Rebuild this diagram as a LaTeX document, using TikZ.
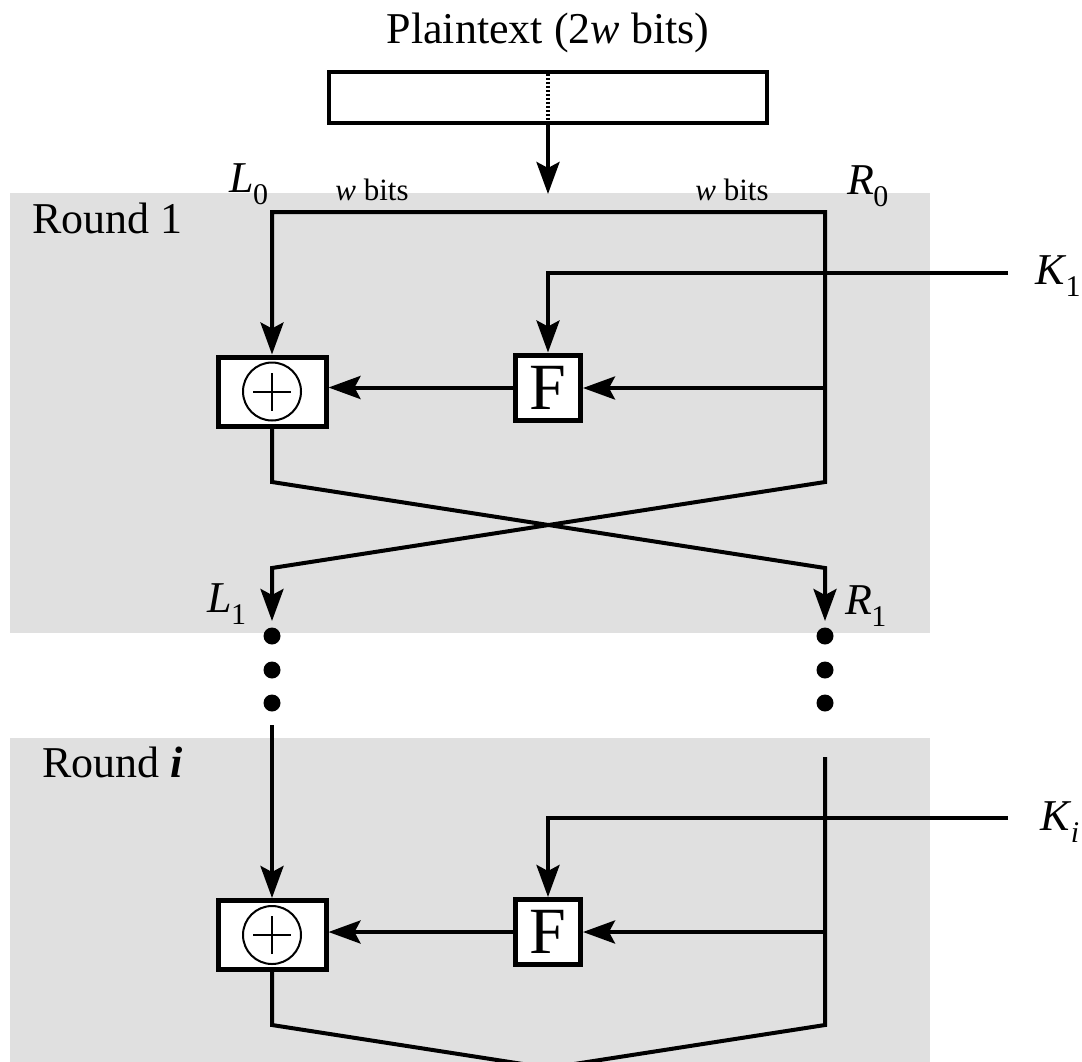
\documentclass[tikz,border=0pt]{standalone}
\usepackage{fontspec}
\setmainfont{Liberation Serif}
\newfontfamily\labelfont{Liberation Serif}
\usetikzlibrary{arrows.meta}
% italic symbol with an upright subscript
\newcommand{\varsub}[2]{\textit{#1}\kern-1pt\raisebox{-0.28em}{\fontsize{30}{30}\selectfont #2}}
\begin{document}
\begin{tikzpicture}[x=1pt,y=-1pt,
  font=\labelfont,
  wire/.style={line width=4pt,line join=miter},
  tip/.style={-{Stealth[length=32pt,width=23pt,inset=6pt]}},
  arr/.style={wire,tip},
  arrboth/.style={wire,{Stealth[length=32pt,width=23pt,inset=6pt]}-{Stealth[length=32pt,width=23pt,inset=6pt]}},
  boxstyle/.style={draw,fill=white,line width=5pt,inner sep=0pt},
  xorbox/.style={boxstyle,minimum width=108pt,minimum height=69pt},
  funcbox/.style={boxstyle,minimum width=65pt,minimum height=65pt,font=\labelfont\fontsize{66}{66}\selectfont},
  band/.style={fill=black!12,draw=none},
  lbl/.style={font=\labelfont\fontsize{44}{48}\selectfont,inner sep=0pt},
  small/.style={font=\labelfont\fontsize{31}{34}\selectfont,inner sep=0pt},
  dot/.style={circle,fill=black,inner sep=0pt,minimum size=17pt},
]
\useasboundingbox (0,0) rectangle (1082,1061);
\clip (0,0) rectangle (1082,1061);

% shaded round areas
\fill[band] (10,193) rectangle (930,633);
\fill[band] (10,738) rectangle (930,1080);

% plaintext block
\node[lbl] (title) at (548,33) {Plaintext (2\textit{w} bits)};
\node[draw,line width=4.5pt,minimum width=438pt,minimum height=51pt,inner sep=0pt] (pt) at (548,97.5) {};
\draw[line width=3.5pt,dash pattern=on 2.5pt off 1.5pt] (pt.north) ++(0,4) -- ([yshift=3pt]pt.south);
\coordinate (split) at (548,194);
\draw[arr] (pt.south) -- (split);

% ---------------- Round 1 ----------------
\node[lbl,anchor=base west] (r1name) at (32,233) {Round 1};
\coordinate (l0) at (272,212);
\coordinate (r0) at (825,212);
\node[xorbox] (x1) at (272,391.5) {};
\draw[line width=2pt] (x1.center) circle (29pt);
\draw[line width=2pt] ([xshift=-19pt]x1.center) -- ([xshift=19pt]x1.center)
                      ([yshift=-19pt]x1.center) -- ([yshift=19pt]x1.center);
\node[funcbox] (f1) at (548,387.5) {F};

\node[lbl] (L0) at (249,184) {\varsub{L}{0}};
\node[lbl] (R0) at (868,186) {\varsub{R}{0}};
\node[small] (wl) at (372,190) {\textit{w} bits};
\node[small] (wr) at (732,190) {\textit{w} bits};

\coordinate (r1a) at (825,482);
\coordinate (l1a) at (272,482);
\coordinate (l1b) at (272,568);
\coordinate (r1b) at (825,568);
\coordinate (l1end) at (272,621);
\coordinate (r1end) at (825,621);
\draw[arrboth] (x1.north) -- (l0) -- (r0) -- (r1a) -- (l1b) -- (l1end);
\draw[arr] (x1.south) -- (l1a) -- (r1b) -- (r1end);

\node[lbl] (K1) at (1058,276) {\varsub{K}{1}};
\coordinate (k1in) at (1008,273);
\draw[arr] (k1in) -| (f1.north);
\coordinate (r1tap) at (825,388);
\draw[arr] (r1tap) -- (f1.east |- r1tap);
\draw[arr] (f1.west) -- (x1.east |- f1.west);

\node[lbl] (L1) at (227,604) {\varsub{L}{1}};
\node[lbl] (R1) at (866,606) {\varsub{R}{1}};

% continuation dots
\foreach \y [count=\k] in {636,670,703} {
  \node[dot] (dl\k) at (272,\y) {};
  \node[dot] (dr\k) at (825,\y) {};
}

% ---------------- Round i ----------------
\node[lbl,anchor=base west] (riname) at (42,777) {Round \textbf{\textit{i}}};
\node[xorbox] (x2) at (272,935) {};
\draw[line width=2pt] (x2.center) circle (29pt);
\draw[line width=2pt] ([xshift=-19pt]x2.center) -- ([xshift=19pt]x2.center)
                      ([yshift=-19pt]x2.center) -- ([yshift=19pt]x2.center);
\node[funcbox] (f2) at (548,932) {F};

\coordinate (l2top) at (272,725);
\coordinate (r2top) at (825,757);
\draw[arr] (l2top) -- (x2.north);

\node[lbl] (Ki) at (1060,822) {\varsub{K}{\textit{i}}};
\coordinate (kiin) at (1008,818);
\draw[arr] (kiin) -| (f2.north);
\coordinate (r2tap) at (825,932);
\draw[arr] (r2tap) -- (f2.east |- r2tap);
\draw[arr] (f2.west) -- (x2.east |- f2.west);

\coordinate (r2a) at (825,1025);
\coordinate (l2a) at (272,1025);
\draw[wire] (r2top) -- (r2a) -- (272,1111);
\draw[wire] (x2.south) -- (l2a) -- (825,1111);
\end{tikzpicture}
\end{document}
